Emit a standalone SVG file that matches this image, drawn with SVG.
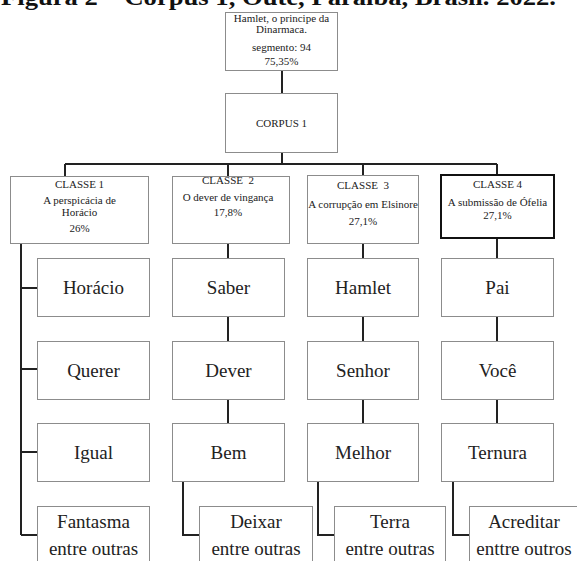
<svg xmlns="http://www.w3.org/2000/svg" width="577" height="561" viewBox="0 0 577 561">
<style>
.box{fill:#fff;stroke:#8c8c8c;stroke-width:1}
.bold{fill:#fff;stroke:#111;stroke-width:2}
.s{font-family:"Liberation Serif","Times New Roman",serif;font-size:11px;fill:#222;text-anchor:middle}
.w{font-family:"Liberation Serif","Times New Roman",serif;font-size:19px;fill:#222;text-anchor:middle}
.t{font-family:"Liberation Serif","Times New Roman",serif;font-size:24px;font-weight:bold;fill:#111}
#connectors path{fill:none;stroke:#222;stroke-width:2}
</style>
<rect width="577" height="561" fill="#fff"/>
<text class="t" x="1" y="5" textLength="555" lengthAdjust="spacingAndGlyphs">Figura 2 – Corpus 1, Outé, Paraíba, Brasil. 2022.</text>
<g id="connectors">
<path d="M282 70V93"/>
<path d="M282 152V164M65 164H497M65 164V176M228 164V176M363 164V175M497 164V175"/>
<path d="M21 243V535M21 288H37M21 369H37M21 452H37M21 535H37"/>
<path d="M228 243V258M228 316V341M228 399V423M183 481V535H199"/>
<path d="M363 243V258M363 316V341M363 399V423M318 481V535H334"/>
<path d="M497 238V258M497 316V341M497 399V423M453 481V535H469"/>
</g>
<g id="top">
<rect class="box" x="225.5" y="12.5" width="112" height="58"/>
<text class="s" x="281.5" y="22">Hamlet, o principe da</text>
<text class="s" x="281.5" y="33">Dinarmaca.</text>
<text class="s" x="281.5" y="51">segmento: 94</text>
<text class="s" x="281.5" y="65">75,35%</text>
</g>
<g id="corpus">
<rect class="box" x="225.5" y="93.5" width="112" height="59"/>
<text class="s" x="281.5" y="127">CORPUS 1</text>
</g>
<g id="classe1">
<rect class="box" x="10.5" y="176.5" width="138" height="67"/>
<text class="s" x="79.5" y="188">CLASSE 1</text>
<text class="s" x="79.5" y="204">A perspicácia de</text>
<text class="s" x="79.5" y="216">Horácio</text>
<text class="s" x="79.5" y="232">26%</text>
</g>
<g id="classe2">
<rect class="box" x="172.5" y="176.5" width="117" height="67"/>
<text class="s" x="228" y="184" xml:space="preserve">CLASSE  2</text>
<text class="s" x="228" y="201">O dever de vingança</text>
<text class="s" x="228" y="216">17,8%</text>
</g>
<g id="classe3">
<rect class="box" x="307.5" y="175.5" width="111" height="68"/>
<text class="s" x="363" y="189" xml:space="preserve">CLASSE  3</text>
<text class="s" x="363" y="208">A corrupção em Elsinore</text>
<text class="s" x="363" y="225">27,1%</text>
</g>
<g id="classe4">
<rect class="bold" x="441" y="175" width="113" height="63"/>
<text class="s" x="497.5" y="188">CLASSE 4</text>
<text class="s" x="497.5" y="206">A submissão de Ófelia</text>
<text class="s" x="497.5" y="219">27,1%</text>
</g>
<g id="horacio"><rect class="box" x="37.5" y="258.5" width="112" height="58"/><text class="w" x="93.5" y="294">Horácio</text></g>
<g id="querer"><rect class="box" x="37.5" y="341.5" width="112" height="58"/><text class="w" x="93.5" y="377">Querer</text></g>
<g id="igual"><rect class="box" x="37.5" y="423.5" width="112" height="58"/><text class="w" x="93.5" y="459">Igual</text></g>
<g id="fantasma"><rect class="box" x="37.5" y="506.5" width="112" height="70"/><text class="w" x="93.5" y="528">Fantasma</text><text class="w" x="93.5" y="555">entre outras</text></g>
<g id="saber"><rect class="box" x="172.5" y="258.5" width="112" height="58"/><text class="w" x="228.5" y="294">Saber</text></g>
<g id="dever"><rect class="box" x="172.5" y="341.5" width="112" height="58"/><text class="w" x="228.5" y="377">Dever</text></g>
<g id="bem"><rect class="box" x="172.5" y="423.5" width="112" height="58"/><text class="w" x="228.5" y="459">Bem</text></g>
<g id="deixar"><rect class="box" x="199.5" y="506.5" width="113" height="70"/><text class="w" x="256" y="528">Deixar</text><text class="w" x="256" y="555">entre outras</text></g>
<g id="hamlet"><rect class="box" x="307.5" y="258.5" width="111" height="58"/><text class="w" x="363" y="294">Hamlet</text></g>
<g id="senhor"><rect class="box" x="307.5" y="341.5" width="111" height="58"/><text class="w" x="363" y="377">Senhor</text></g>
<g id="melhor"><rect class="box" x="307.5" y="423.5" width="111" height="58"/><text class="w" x="363" y="459">Melhor</text></g>
<g id="terra"><rect class="box" x="334.5" y="506.5" width="111" height="70"/><text class="w" x="390" y="528">Terra</text><text class="w" x="390" y="555">entre outras</text></g>
<g id="pai"><rect class="box" x="441.5" y="258.5" width="112" height="58"/><text class="w" x="497.5" y="294">Pai</text></g>
<g id="voce"><rect class="box" x="441.5" y="341.5" width="112" height="58"/><text class="w" x="497.5" y="377">Você</text></g>
<g id="ternura"><rect class="box" x="441.5" y="423.5" width="112" height="58"/><text class="w" x="497.5" y="459">Ternura</text></g>
<g id="acreditar"><rect class="box" x="469.5" y="506.5" width="111" height="70"/><text class="w" x="524" y="528">Acreditar</text><text class="w" x="524" y="555">enttre outros</text></g>
</svg>
